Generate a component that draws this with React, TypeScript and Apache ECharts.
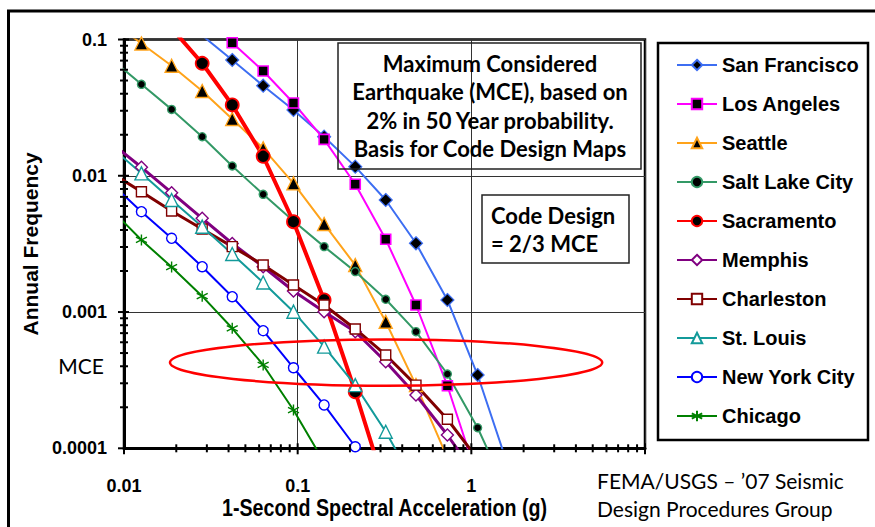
import React, { useEffect, useRef } from "react";
import * as echarts from "echarts";

// Spectral acceleration (g) at which each hazard-curve point is plotted
const X_VALUES = [0.0084, 0.0126, 0.0188, 0.0282, 0.042, 0.0633, 0.0946, 0.142, 0.2146, 0.3214, 0.48, 0.728, 1.087, 1.628];

// Annual frequency of exceedance per city (null = not plotted)
const SAN_FRANCISCO = [null, null, null, 0.107, 0.0707, 0.0458, 0.0304, 0.01936, 0.01167, 0.00664, 0.003195, 0.001226, 0.000345, 0.000074];
const LOS_ANGELES = [null, null, null, 0.149, 0.0947, 0.0587, 0.0342, 0.0185, 0.00866, 0.00342, 0.001126, 0.000288, 0.00006, null];
const SEATTLE = [0.137, 0.0935, 0.0642, 0.0419, 0.0261, 0.0159, 0.0088, 0.00443, 0.00221, 0.000849, 0.000291, 0.000085, null, null];
const SALT_LAKE_CITY = [0.0723, 0.0469, 0.0307, 0.01935, 0.0118, 0.00731, 0.00466, 0.00302, 0.00198, 0.00124, 0.000718, 0.000351, 0.0001416, 0.000046];
const SACRAMENTO = [null, null, 0.121, 0.0669, 0.0331, 0.0139, 0.0046, 0.001226, 0.00026, 0.00005, null, null, null, null];
const MEMPHIS = [0.0175, 0.01154, 0.00751, 0.004875, 0.003184, 0.002151, 0.001427, 0.001006, 0.000717, 0.000432, 0.000246, 0.0001252, 0.0000605, null];
const CHARLESTON = [0.01053, 0.00764, 0.00551, 0.00407, 0.00302, 0.002214, 0.00158, 0.001126, 0.000751, 0.000484, 0.000291, 0.0001633, 0.0000835, null];
const ST_LOUIS = [0.01622, 0.01042, 0.00664, 0.00423, 0.002667, 0.001647, 0.001006, 0.000557, 0.000291, 0.0001324, 0.000053, null, null, null];
const NEW_YORK_CITY = [0.00884, 0.00545, 0.003476, 0.002151, 0.001296, 0.00073, 0.00039, 0.000208, 0.0001027, 0.000047, null, null, null, null];
const CHICAGO = [0.0057, 0.003379, 0.00214, 0.001307, 0.00076, 0.000409, 0.000191, 0.000079, null, null, null, null, null, null];

// Reference levels
const MCE_LEVEL = 0.000404; // 2% in 50 years
const CODE_LEVEL = 0.00214; // 2/3 MCE

// Axis ranges and tick labels
const X_MIN = 0.01;
const X_MAX = 10;
const Y_MIN = 0.0001;
const Y_MAX = 0.1;
const X_TICK_LABELS = ["0.01", "0.1", "1", ""];
const Y_TICK_LABELS = ["0.0001", "0.001", "0.01", "0.1"];
const MINOR_MULTIPLIERS = [2, 3, 4, 5, 6, 7, 8, 9];

// Ellipse annotation extents (data units)
const ELLIPSE_X = [0.0184, 5.67];
const ELLIPSE_Y = [0.00063, 0.000288];

const ASTERISK = "path://M5,0 L5,10 M0.67,2.5 L9.33,7.5 M0.67,7.5 L9.33,2.5";

type Cfg = {
  name: string;
  values: (number | null)[];
  color: string;
  fill: string;
  symbol: string;
  size: number;
  width: number;
  borderWidth: number;
};

const SERIES: Cfg[] = [
  { name: "San Francisco", values: SAN_FRANCISCO, color: "#3d6ef2", fill: "#000", symbol: "diamond", size: 13, width: 2, borderWidth: 1.2 },
  { name: "Los Angeles", values: LOS_ANGELES, color: "#ff00ff", fill: "#000", symbol: "rect", size: 10, width: 2, borderWidth: 1.6 },
  { name: "Seattle", values: SEATTLE, color: "#ffa31a", fill: "#000", symbol: "triangle", size: 13, width: 2, borderWidth: 1.4 },
  { name: "Salt Lake City", values: SALT_LAKE_CITY, color: "#339966", fill: "#000", symbol: "circle", size: 8, width: 2, borderWidth: 1.4 },
  { name: "Sacramento", values: SACRAMENTO, color: "#ff0000", fill: "#000", symbol: "circle", size: 13, width: 4, borderWidth: 1.8 },
  { name: "Memphis", values: MEMPHIS, color: "#800080", fill: "#fff", symbol: "diamond", size: 12, width: 3, borderWidth: 1.4 },
  { name: "Charleston", values: CHARLESTON, color: "#800000", fill: "#fff", symbol: "rect", size: 10, width: 3, borderWidth: 1.4 },
  { name: "St. Louis", values: ST_LOUIS, color: "#139a9a", fill: "#fff", symbol: "triangle", size: 13, width: 2, borderWidth: 1.4 },
  { name: "New York City", values: NEW_YORK_CITY, color: "#0000ff", fill: "#fff", symbol: "circle", size: 10, width: 2, borderWidth: 1.4 },
  { name: "Chicago", values: CHICAGO, color: "#008000", fill: "#008000", symbol: ASTERISK, size: 11, width: 2, borderWidth: 1.4 },
];

const GRID = { left: 124, top: 39.5, right: 230, bottom: 78.7 };
const LABEL_FONT = "'Liberation Sans', Arial, sans-serif";
const NOTE_FONT = "Lato, 'Open Sans', sans-serif";

export default function App() {
  const ref = useRef<HTMLDivElement>(null);

  useEffect(() => {
    if (!ref.current) return;
    const chart = echarts.init(ref.current, null, { renderer: "svg" });

    const tickData: number[][] = [];
    [0.0001, 0.001, 0.01, 0.1].forEach((d, i) => {
      tickData.push([X_MIN, d, 0, 1]);
      if (i < 3) MINOR_MULTIPLIERS.forEach((m) => tickData.push([X_MIN, d * m, 0, 0]));
    });
    [0.01, 0.1, 1, 10].forEach((d, i) => {
      tickData.push([d, Y_MIN, 1, 1]);
      if (i < 3) MINOR_MULTIPLIERS.forEach((m) => tickData.push([d * m, Y_MIN, 1, 0]));
    });

    const citySeries = SERIES.map((s) => ({
      name: s.name,
      type: "line",
      z: 3,
      clip: true,
      color: s.color,
      symbol: s.symbol,
      symbolSize: s.size,
      data: X_VALUES.map((x, i) => (s.values[i] == null ? null : [x, s.values[i]])).filter((p) => p !== null),
      lineStyle: { color: s.color, width: s.width },
      itemStyle: { color: s.fill, borderColor: s.color, borderWidth: s.borderWidth },
      emphasis: { disabled: true },
    }));

    chart.setOption({
      animation: false,
      grid: { ...GRID, show: true, borderColor: "#000", borderWidth: 2.5, backgroundColor: "transparent" },
      xAxis: {
        type: "log",
        logBase: 10,
        min: X_MIN,
        max: X_MAX,
        axisLine: { lineStyle: { color: "#000", width: 3 } },
        axisTick: { show: false },
        splitLine: { show: true, lineStyle: { color: "#333", width: 1 } },
        axisLabel: {
          margin: 29,
          color: "#000",
          fontFamily: LABEL_FONT,
          fontWeight: "bold",
          fontSize: 18,
          formatter: (v: number) => X_TICK_LABELS[Math.round(Math.log10(v)) + 2] ?? "",
        },
      },
      yAxis: {
        type: "log",
        logBase: 10,
        min: Y_MIN,
        max: Y_MAX,
        axisLine: { lineStyle: { color: "#000", width: 3 } },
        axisTick: { show: false },
        splitLine: { show: true, lineStyle: { color: "#333", width: 1 } },
        axisLabel: {
          margin: 17,
          color: "#000",
          fontFamily: LABEL_FONT,
          fontWeight: "bold",
          fontSize: 18,
          formatter: (v: number) => Y_TICK_LABELS[Math.round(Math.log10(v)) + 4] ?? "",
        },
      },
      legend: {
        data: SERIES.map((s) => s.name),
        orient: "vertical",
        left: 671,
        top: 48,
        itemWidth: 40,
        itemHeight: 13,
        itemGap: 15,
        selectedMode: false,
        textStyle: { fontFamily: LABEL_FONT, fontWeight: "bold", fontSize: 20, lineHeight: 24, color: "#000" },
      },
      series: [
        {
          name: "levels",
          type: "line",
          z: 1,
          data: [],
          markLine: {
            silent: true,
            symbol: "none",
            label: { show: false },
            lineStyle: { color: "#000", width: 2.5, type: "solid" },
            data: [{ yAxis: CODE_LEVEL }, { yAxis: MCE_LEVEL }],
          },
        },
        ...citySeries,
        {
          name: "ticks",
          type: "custom",
          z: 5,
          silent: true,
          clip: false,
          data: tickData,
          renderItem: (_p: any, api: any) => {
            const pt = api.coord([api.value(0), api.value(1)]);
            const isX = api.value(2) === 1;
            const major = api.value(3) === 1;
            if (isX) {
              return {
                type: "line",
                shape: { x1: pt[0], y1: pt[1] - (major ? 5 : 4), x2: pt[0], y2: pt[1] + (major ? 6 : 4) },
                style: { stroke: "#000", lineWidth: 2 },
              };
            }
            return {
              type: "line",
              shape: { x1: pt[0] - (major ? 6 : 4), y1: pt[1], x2: pt[0] + (major ? 5 : 4), y2: pt[1] },
              style: { stroke: "#000", lineWidth: 2 },
            };
          },
        },
      ],
    });

    const toPx = (x: number, y: number) => chart.convertToPixel({ gridIndex: 0 }, [x, y]) as number[];
    const eL = toPx(ELLIPSE_X[0], ELLIPSE_Y[0]);
    const eR = toPx(ELLIPSE_X[1], ELLIPSE_Y[1]);
    const mce = toPx(X_MIN, MCE_LEVEL);
    const plotMid = (toPx(X_MIN, Y_MIN)[0] + toPx(X_MAX, Y_MIN)[0]) / 2;
    const plotMidY = (toPx(X_MIN, Y_MIN)[1] + toPx(X_MIN, Y_MAX)[1]) / 2;

    chart.setOption({
      graphic: [
        {
          type: "rect",
          z: 50,
          silent: true,
          shape: { x: 8.5, y: 11, width: 900, height: 600 },
          style: { fill: "none", stroke: "#000", lineWidth: 3 },
        },
        {
          type: "ellipse",
          z: 60,
          silent: true,
          shape: { cx: (eL[0] + eR[0]) / 2, cy: (eL[1] + eR[1]) / 2, rx: (eR[0] - eL[0]) / 2, ry: (eR[1] - eL[1]) / 2 },
          style: { fill: "none", stroke: "#ff0000", lineWidth: 2.5 },
        },
        {
          type: "rect",
          z: 50,
          silent: true,
          shape: { x: 338, y: 43, width: 303, height: 126 },
          style: { fill: "none", stroke: "#222", lineWidth: 1.5 },
        },
        {
          type: "text",
          z: 50,
          silent: true,
          x: 490,
          y: 106,
          style: {
            text: "Maximum Considered\nEarthquake (MCE), based on\n2% in 50 Year probability.\nBasis for Code Design Maps",
            fontFamily: NOTE_FONT,
            fontWeight: "bold",
            fontSize: 22,
            lineHeight: 28.5,
            align: "center",
            verticalAlign: "middle",
            fill: "#000",
          },
        },
        {
          type: "rect",
          z: 50,
          silent: true,
          shape: { x: 482, y: 195, width: 147, height: 68 },
          style: { fill: "none", stroke: "#222", lineWidth: 1.5 },
        },
        {
          type: "text",
          z: 50,
          silent: true,
          x: 491,
          y: 229,
          style: {
            text: "Code Design\n= 2/3 MCE",
            fontFamily: NOTE_FONT,
            fontWeight: "bold",
            fontSize: 22,
            lineHeight: 28,
            align: "left",
            verticalAlign: "middle",
            fill: "#000",
          },
        },
        {
          type: "rect",
          z: 50,
          silent: true,
          shape: { x: 658, y: 43, width: 210, height: 397 },
          style: { fill: "none", stroke: "#000", lineWidth: 2.5 },
        },
        {
          type: "text",
          z: 50,
          silent: true,
          x: 30,
          y: plotMidY,
          rotation: Math.PI / 2,
          style: {
            text: "Annual Frequency",
            fontFamily: LABEL_FONT,
            fontWeight: "bold",
            fontSize: 21,
            align: "center",
            verticalAlign: "middle",
            fill: "#000",
          },
        },
        {
          type: "text",
          z: 50,
          silent: true,
          x: plotMid,
          y: 508,
          scaleX: 0.82,
          style: {
            text: "1-Second Spectral Acceleration (g)",
            fontFamily: LABEL_FONT,
            fontWeight: "bold",
            fontSize: 24,
            align: "center",
            verticalAlign: "middle",
            fill: "#000",
          },
        },
        {
          type: "text",
          z: 50,
          silent: true,
          x: 104,
          y: mce[1],
          style: {
            text: "MCE",
            fontFamily: NOTE_FONT,
            fontSize: 21,
            align: "right",
            verticalAlign: "middle",
            fill: "#000",
          },
        },
        {
          type: "text",
          z: 50,
          silent: true,
          x: 597,
          y: 494,
          style: {
            text: "FEMA/USGS \u2013 \u201907 Seismic\nDesign Procedures Group",
            fontFamily: NOTE_FONT,
            fontSize: 21,
            lineHeight: 28,
            align: "left",
            verticalAlign: "middle",
            fill: "#000",
          },
        },
      ],
    });

    return () => chart.dispose();
  }, []);

  return <div ref={ref} style={{ position: "fixed", left: 0, top: 0, width: 875, height: 527, background: "#fff" }} />;
}
